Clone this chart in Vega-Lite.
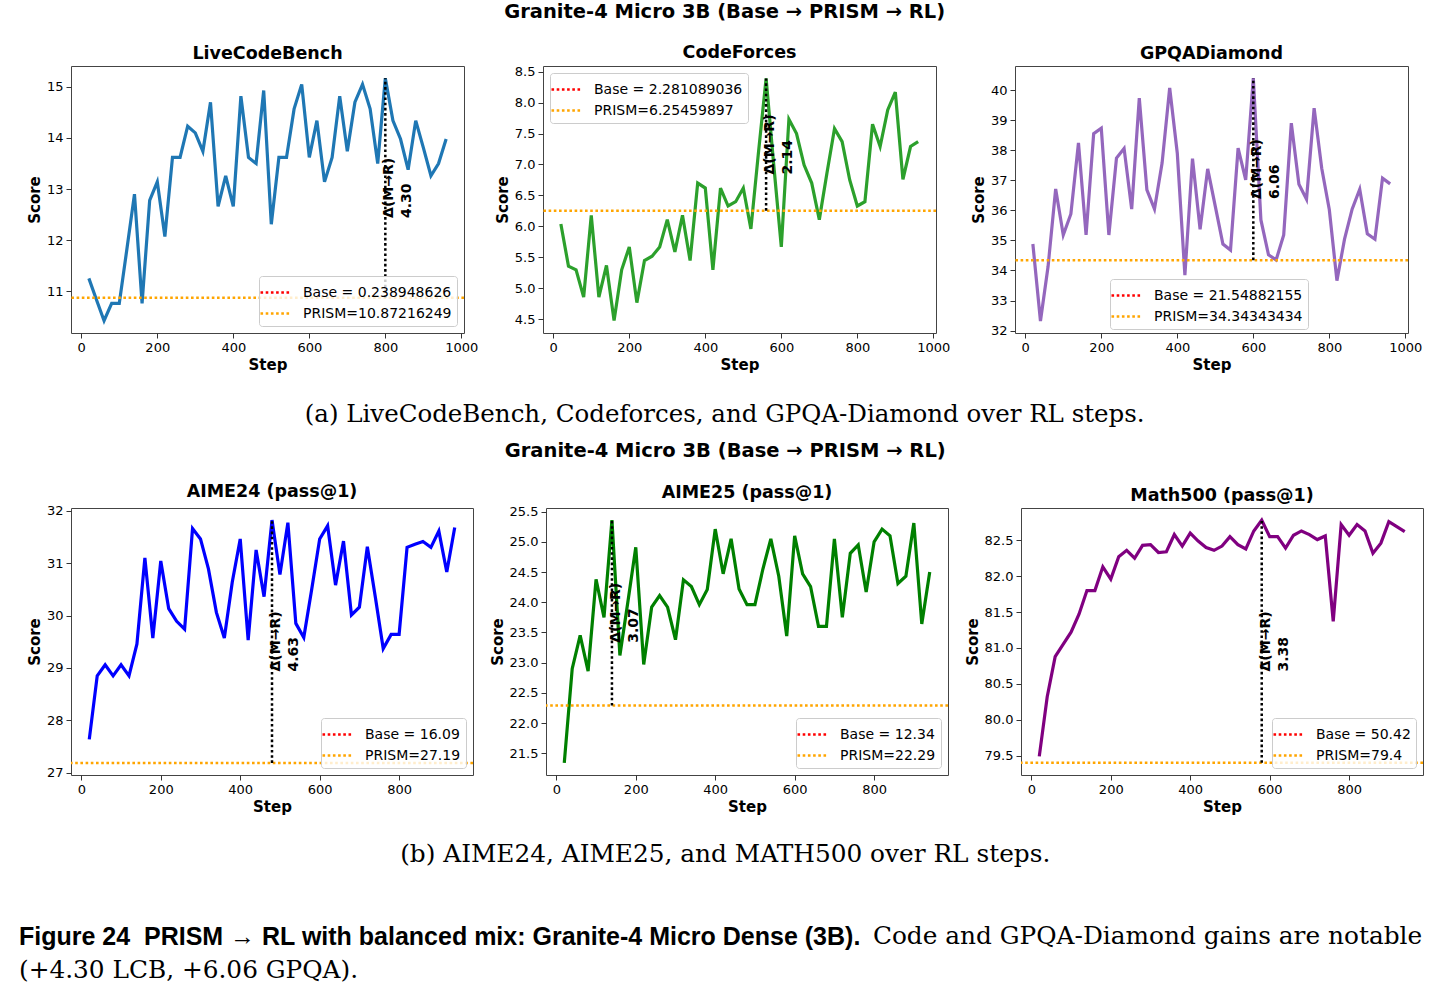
{
  "$schema": "https://vega.github.io/schema/vega-lite/v6.json",
  "padding": {"left": 18, "top": 2, "right": 5, "bottom": 5},
  "background": "white",
  "config": {
    "font": "DejaVu Sans",
    "view": {"stroke": "#444", "strokeWidth": 1},
    "axis": {"grid": false, "domain": false, "tickColor": "#333", "tickSize": 5, "labelFont": "DejaVu Sans", "labelFontSize": 13, "labelColor": "#000", "titleFont": "DejaVu Sans", "titleFontSize": 15, "titleFontWeight": "bold", "titleColor": "#000", "labelPadding": 3, "labelOverlap": false, "labelFlush": false},
    "axisY": {"titlePadding": 4},
    "axisX": {"titlePadding": 3, "format": "d"},
    "legend": {"symbolType": "M-1.5,0H1.5", "symbolSize": 400, "symbolStrokeWidth": 2.5, "symbolDash": [2.6, 2.6], "labelFont": "DejaVu Sans", "labelFontSize": 14, "labelColor": "#000", "labelOffset": 16, "rowPadding": 2, "padding": 5, "strokeColor": "#cccccc", "fillColor": "rgba(255,255,255,0.8)", "cornerRadius": 3, "labelLimit": 400},
    "title": {"font": "DejaVu Sans", "fontWeight": "bold", "fontSize": 17.5, "offset": 4, "color": "#000", "frame": "group", "baseline": "alphabetic"}
  },
  "datasets": {
    "lcb": [
      {"step": 20, "score": 11.25}, {"step": 40, "score": 10.83}, {"step": 60, "score": 10.42}, {"step": 80, "score": 10.76}, {"step": 100, "score": 10.76}, {"step": 120, "score": 11.82}, {"step": 140, "score": 12.9}, {"step": 160, "score": 10.76}, {"step": 180, "score": 12.78}, {"step": 200, "score": 13.14}, {"step": 220, "score": 12.07}, {"step": 240, "score": 13.62}, {"step": 260, "score": 13.62}, {"step": 280, "score": 14.23}, {"step": 300, "score": 14.1}, {"step": 320, "score": 13.74}, {"step": 340, "score": 14.7}, {"step": 360, "score": 12.66}, {"step": 380, "score": 13.26}, {"step": 400, "score": 12.66}, {"step": 420, "score": 14.82}, {"step": 440, "score": 13.62}, {"step": 460, "score": 13.5}, {"step": 480, "score": 14.93}, {"step": 500, "score": 12.31}, {"step": 520, "score": 13.62}, {"step": 540, "score": 13.62}, {"step": 560, "score": 14.57}, {"step": 580, "score": 15.05}, {"step": 600, "score": 13.62}, {"step": 620, "score": 14.34}, {"step": 640, "score": 13.14}, {"step": 660, "score": 13.62}, {"step": 680, "score": 14.82}, {"step": 700, "score": 13.74}, {"step": 720, "score": 14.7}, {"step": 740, "score": 15.05}, {"step": 760, "score": 14.57}, {"step": 780, "score": 13.5}, {"step": 800, "score": 15.17}, {"step": 820, "score": 14.34}, {"step": 840, "score": 13.98}, {"step": 860, "score": 13.38}, {"step": 880, "score": 14.34}, {"step": 900, "score": 13.81}, {"step": 920, "score": 13.26}, {"step": 940, "score": 13.5}, {"step": 960, "score": 13.98}
    ],
    "lcb_ref": [{"label": "Base = 0.238948626", "value": 0.238948626}, {"label": "PRISM=10.87216249", "value": 10.87216249}],
    "lcb_delta": [{"step": 800, "lo": 10.87216249, "hi": 15.17, "label": "Δ(M→R)\n4.30"}],
    "cf": [
      {"step": 20, "score": 6.04}, {"step": 40, "score": 5.36}, {"step": 60, "score": 5.3}, {"step": 80, "score": 4.86}, {"step": 100, "score": 6.18}, {"step": 120, "score": 4.86}, {"step": 140, "score": 5.37}, {"step": 160, "score": 4.48}, {"step": 180, "score": 5.3}, {"step": 200, "score": 5.67}, {"step": 220, "score": 4.77}, {"step": 240, "score": 5.45}, {"step": 260, "score": 5.52}, {"step": 280, "score": 5.67}, {"step": 300, "score": 6.11}, {"step": 320, "score": 5.59}, {"step": 340, "score": 6.18}, {"step": 360, "score": 5.45}, {"step": 380, "score": 6.7}, {"step": 400, "score": 6.62}, {"step": 420, "score": 5.3}, {"step": 440, "score": 6.62}, {"step": 460, "score": 6.33}, {"step": 480, "score": 6.4}, {"step": 500, "score": 6.62}, {"step": 520, "score": 5.96}, {"step": 540, "score": 7.2}, {"step": 560, "score": 8.39}, {"step": 580, "score": 7.0}, {"step": 600, "score": 5.67}, {"step": 620, "score": 7.73}, {"step": 640, "score": 7.5}, {"step": 660, "score": 6.99}, {"step": 680, "score": 6.7}, {"step": 700, "score": 6.11}, {"step": 720, "score": 6.86}, {"step": 740, "score": 7.58}, {"step": 760, "score": 7.37}, {"step": 780, "score": 6.75}, {"step": 800, "score": 6.33}, {"step": 820, "score": 6.4}, {"step": 840, "score": 7.65}, {"step": 860, "score": 7.29}, {"step": 880, "score": 7.88}, {"step": 900, "score": 8.17}, {"step": 920, "score": 6.76}, {"step": 940, "score": 7.29}, {"step": 960, "score": 7.37}
    ],
    "cf_ref": [{"label": "Base = 2.281089036", "value": 2.281089036}, {"label": "PRISM=6.25459897", "value": 6.25459897}],
    "cf_delta": [{"step": 560, "lo": 6.25459897, "hi": 8.39, "label": "Δ(M→R)\n2.14"}],
    "gpqa": [
      {"step": 20, "score": 34.88}, {"step": 40, "score": 32.32}, {"step": 60, "score": 34.13}, {"step": 80, "score": 36.71}, {"step": 100, "score": 35.18}, {"step": 120, "score": 35.88}, {"step": 140, "score": 38.24}, {"step": 160, "score": 35.18}, {"step": 180, "score": 38.55}, {"step": 200, "score": 38.73}, {"step": 220, "score": 35.18}, {"step": 240, "score": 37.74}, {"step": 260, "score": 38.06}, {"step": 280, "score": 36.04}, {"step": 300, "score": 39.73}, {"step": 320, "score": 36.68}, {"step": 340, "score": 36.04}, {"step": 360, "score": 37.57}, {"step": 380, "score": 40.07}, {"step": 400, "score": 37.9}, {"step": 420, "score": 33.84}, {"step": 440, "score": 37.72}, {"step": 460, "score": 35.37}, {"step": 480, "score": 37.38}, {"step": 500, "score": 36.13}, {"step": 520, "score": 34.88}, {"step": 540, "score": 34.68}, {"step": 560, "score": 38.07}, {"step": 580, "score": 37.01}, {"step": 600, "score": 40.4}, {"step": 620, "score": 35.68}, {"step": 640, "score": 34.52}, {"step": 660, "score": 34.35}, {"step": 680, "score": 35.18}, {"step": 700, "score": 38.9}, {"step": 720, "score": 36.87}, {"step": 740, "score": 36.37}, {"step": 760, "score": 39.4}, {"step": 780, "score": 37.4}, {"step": 800, "score": 36.02}, {"step": 820, "score": 33.66}, {"step": 840, "score": 35.04}, {"step": 860, "score": 36.04}, {"step": 880, "score": 36.7}, {"step": 900, "score": 35.22}, {"step": 920, "score": 35.04}, {"step": 940, "score": 37.07}, {"step": 960, "score": 36.88}
    ],
    "gpqa_ref": [{"label": "Base = 21.54882155", "value": 21.54882155}, {"label": "PRISM=34.34343434", "value": 34.34343434}],
    "gpqa_delta": [{"step": 600, "lo": 34.34343434, "hi": 40.4, "label": "Δ(M→R)\n6.06"}],
    "aime24": [
      {"step": 20, "score": 27.64}, {"step": 40, "score": 28.85}, {"step": 60, "score": 29.06}, {"step": 80, "score": 28.85}, {"step": 100, "score": 29.06}, {"step": 120, "score": 28.85}, {"step": 140, "score": 29.46}, {"step": 160, "score": 31.1}, {"step": 180, "score": 29.57}, {"step": 200, "score": 31.04}, {"step": 220, "score": 30.13}, {"step": 240, "score": 29.89}, {"step": 260, "score": 29.74}, {"step": 280, "score": 31.66}, {"step": 300, "score": 31.46}, {"step": 320, "score": 30.89}, {"step": 340, "score": 30.06}, {"step": 360, "score": 29.57}, {"step": 380, "score": 30.64}, {"step": 400, "score": 31.46}, {"step": 420, "score": 29.53}, {"step": 440, "score": 31.25}, {"step": 460, "score": 30.36}, {"step": 480, "score": 31.82}, {"step": 500, "score": 30.78}, {"step": 520, "score": 31.77}, {"step": 540, "score": 29.85}, {"step": 560, "score": 29.58}, {"step": 580, "score": 30.5}, {"step": 600, "score": 31.46}, {"step": 620, "score": 31.71}, {"step": 640, "score": 30.58}, {"step": 660, "score": 31.42}, {"step": 680, "score": 30.01}, {"step": 700, "score": 30.16}, {"step": 720, "score": 31.31}, {"step": 740, "score": 30.36}, {"step": 760, "score": 29.37}, {"step": 780, "score": 29.64}, {"step": 800, "score": 29.64}, {"step": 820, "score": 31.3}, {"step": 840, "score": 31.36}, {"step": 860, "score": 31.41}, {"step": 880, "score": 31.3}, {"step": 900, "score": 31.61}, {"step": 920, "score": 30.83}, {"step": 940, "score": 31.68}
    ],
    "aime24_ref": [{"label": "Base = 16.09", "value": 16.09}, {"label": "PRISM=27.19", "value": 27.19}],
    "aime24_delta": [{"step": 480, "lo": 27.19, "hi": 31.82, "label": "Δ(M→R)\n4.63"}],
    "aime25": [
      {"step": 20, "score": 21.34}, {"step": 40, "score": 22.9}, {"step": 60, "score": 23.45}, {"step": 80, "score": 22.86}, {"step": 100, "score": 24.38}, {"step": 120, "score": 23.75}, {"step": 140, "score": 25.36}, {"step": 160, "score": 23.12}, {"step": 180, "score": 24.0}, {"step": 200, "score": 24.91}, {"step": 220, "score": 22.97}, {"step": 240, "score": 23.92}, {"step": 260, "score": 24.11}, {"step": 280, "score": 23.92}, {"step": 300, "score": 23.38}, {"step": 320, "score": 24.37}, {"step": 340, "score": 24.26}, {"step": 360, "score": 23.96}, {"step": 380, "score": 24.21}, {"step": 400, "score": 25.21}, {"step": 420, "score": 24.47}, {"step": 440, "score": 25.05}, {"step": 460, "score": 24.22}, {"step": 480, "score": 23.96}, {"step": 500, "score": 23.96}, {"step": 520, "score": 24.55}, {"step": 540, "score": 25.05}, {"step": 560, "score": 24.43}, {"step": 580, "score": 23.44}, {"step": 600, "score": 25.1}, {"step": 620, "score": 24.47}, {"step": 640, "score": 24.26}, {"step": 660, "score": 23.6}, {"step": 680, "score": 23.6}, {"step": 700, "score": 25.05}, {"step": 720, "score": 23.75}, {"step": 740, "score": 24.81}, {"step": 760, "score": 24.95}, {"step": 780, "score": 24.17}, {"step": 800, "score": 25.0}, {"step": 820, "score": 25.21}, {"step": 840, "score": 25.1}, {"step": 860, "score": 24.31}, {"step": 880, "score": 24.43}, {"step": 900, "score": 25.31}, {"step": 920, "score": 23.64}, {"step": 940, "score": 24.5}
    ],
    "aime25_ref": [{"label": "Base = 12.34", "value": 12.34}, {"label": "PRISM=22.29", "value": 22.29}],
    "aime25_delta": [{"step": 140, "lo": 22.29, "hi": 25.36, "label": "Δ(M→R)\n3.07"}],
    "math500": [
      {"step": 20, "score": 79.49}, {"step": 40, "score": 80.32}, {"step": 60, "score": 80.88}, {"step": 80, "score": 81.05}, {"step": 100, "score": 81.22}, {"step": 120, "score": 81.47}, {"step": 140, "score": 81.8}, {"step": 160, "score": 81.8}, {"step": 180, "score": 82.13}, {"step": 200, "score": 81.96}, {"step": 220, "score": 82.27}, {"step": 240, "score": 82.36}, {"step": 260, "score": 82.25}, {"step": 280, "score": 82.43}, {"step": 300, "score": 82.44}, {"step": 320, "score": 82.33}, {"step": 340, "score": 82.34}, {"step": 360, "score": 82.58}, {"step": 380, "score": 82.42}, {"step": 400, "score": 82.6}, {"step": 420, "score": 82.49}, {"step": 440, "score": 82.4}, {"step": 460, "score": 82.36}, {"step": 480, "score": 82.42}, {"step": 500, "score": 82.55}, {"step": 520, "score": 82.44}, {"step": 540, "score": 82.38}, {"step": 560, "score": 82.63}, {"step": 580, "score": 82.78}, {"step": 600, "score": 82.55}, {"step": 620, "score": 82.55}, {"step": 640, "score": 82.39}, {"step": 660, "score": 82.57}, {"step": 680, "score": 82.63}, {"step": 700, "score": 82.58}, {"step": 720, "score": 82.51}, {"step": 740, "score": 82.56}, {"step": 760, "score": 81.37}, {"step": 780, "score": 82.72}, {"step": 800, "score": 82.57}, {"step": 820, "score": 82.72}, {"step": 840, "score": 82.63}, {"step": 860, "score": 82.32}, {"step": 880, "score": 82.46}, {"step": 900, "score": 82.76}, {"step": 920, "score": 82.69}, {"step": 940, "score": 82.62}
    ],
    "math500_ref": [{"label": "Base = 50.42", "value": 50.42}, {"label": "PRISM=79.4", "value": 79.4}],
    "math500_delta": [{"step": 580, "lo": 79.4, "hi": 82.78, "label": "Δ(M→R)\n3.38"}]
  },
  "title": {"text": "Code and GPQA-Diamond gains are notable", "orient": "bottom", "anchor": "start", "frame": "bounds", "baseline": "top", "font": "DejaVu Serif", "fontWeight": "normal", "fontSize": 24.8, "dx": 854, "offset": -59, "color": "#000"},
  "vconcat": [
    {
      "title": {"text": "(+4.30 LCB, +6.06 GPQA).", "orient": "bottom", "anchor": "start", "frame": "bounds", "baseline": "top", "font": "DejaVu Serif", "fontWeight": "normal", "fontSize": 24.8, "offset": 8, "color": "#000"},
      "vconcat": [
        {
          "title": {"text": "Figure 24\u00a0\u00a0PRISM → RL with balanced mix: Granite-4 Micro Dense (3B).", "orient": "bottom", "anchor": "start", "frame": "bounds", "baseline": "top", "font": "Liberation Sans", "fontWeight": "bold", "fontSize": 25, "dx": -8, "offset": 59, "color": "#000"},
          "spacing": 15,
          "vconcat": [
            {
              "title": {"text": "(a) LiveCodeBench, Codeforces, and GPQA-Diamond over RL steps.", "orient": "bottom", "anchor": "middle", "frame": "bounds", "baseline": "top", "font": "DejaVu Serif", "fontWeight": "normal", "fontSize": 24.5, "offset": 30, "color": "#000"},
              "vconcat": [
                {
                  "title": {"text": "Granite-4 Micro 3B (Base → PRISM → RL)", "fontSize": 19.5, "offset": 2, "anchor": "middle", "frame": "bounds", "baseline": "bottom"},
                  "bounds": "flush",
                  "spacing": 79,
                  "resolve": {"scale": {"x": "independent", "y": "independent", "color": "independent"}, "legend": {"color": "independent"}, "axis": {"x": "independent", "y": "independent"}},
                  "hconcat": [
                    {
                      "title": "LiveCodeBench", "width": 393, "height": 267,
                      "layer": [
                        {"data": {"name": "lcb"}, "mark": {"type": "line", "color": "#1f77b4", "strokeWidth": 3.2},
                         "encoding": {"x": {"field": "step", "type": "quantitative", "title": "Step", "scale": {"domain": [-27, 1007], "nice": false, "zero": false}, "axis": {"values": [0, 200, 400, 600, 800, 1000], "tickCount": 12}},
                                      "y": {"field": "score", "type": "quantitative", "title": "Score", "scale": {"domain": [10.18, 15.41], "nice": false, "zero": false}, "axis": {"values": [11, 12, 13, 14, 15], "format": "d", "tickCount": 12}}}},
                        {"data": {"name": "lcb_ref"}, "mark": {"type": "rule", "strokeDash": [2.6, 2.6], "strokeWidth": 2.5, "clip": true},
                         "encoding": {"y": {"field": "value", "type": "quantitative", "title": "Score"},
                                      "color": {"field": "label", "type": "nominal", "scale": {"domain": ["Base = 0.238948626", "PRISM=10.87216249"], "range": ["#ff0000", "#ffa500"]}, "legend": {"title": null, "orient": "bottom-right", "offset": 7}}}},
                        {"data": {"name": "lcb_delta"}, "mark": {"type": "rule", "strokeDash": [2.6, 2.6], "strokeWidth": 2.5, "color": "#000"},
                         "encoding": {"x": {"field": "step", "type": "quantitative", "title": "Step"}, "y": {"field": "lo", "type": "quantitative", "title": "Score"}, "y2": {"field": "hi"}}},
                        {"data": {"name": "lcb_delta"}, "transform": [{"calculate": "(datum.lo + datum.hi) / 2", "as": "mid"}],
                         "mark": {"type": "text", "angle": 270, "align": "left", "baseline": "top", "dx": -30, "dy": -3, "fontWeight": "bold", "fontSize": 14, "lineBreak": "\n", "lineHeight": 18, "color": "#000"},
                         "encoding": {"x": {"field": "step", "type": "quantitative", "title": "Step"}, "y": {"field": "mid", "type": "quantitative", "title": "Score"}, "text": {"field": "label", "type": "nominal"}}}
                      ]
                    },
                    {
                      "title": "CodeForces", "width": 393, "height": 267,
                      "layer": [
                        {"data": {"name": "cf"}, "mark": {"type": "line", "color": "#2ca02c", "strokeWidth": 3.2},
                         "encoding": {"x": {"field": "step", "type": "quantitative", "title": "Step", "scale": {"domain": [-27, 1007], "nice": false, "zero": false}, "axis": {"values": [0, 200, 400, 600, 800, 1000], "tickCount": 12}},
                                      "y": {"field": "score", "type": "quantitative", "title": "Score", "scale": {"domain": [4.28, 8.59], "nice": false, "zero": false}, "axis": {"values": [4.5, 5, 5.5, 6, 6.5, 7, 7.5, 8, 8.5], "format": ".1f", "tickCount": 12}}}},
                        {"data": {"name": "cf_ref"}, "mark": {"type": "rule", "strokeDash": [2.6, 2.6], "strokeWidth": 2.5, "clip": true},
                         "encoding": {"y": {"field": "value", "type": "quantitative", "title": "Score"},
                                      "color": {"field": "label", "type": "nominal", "scale": {"domain": ["Base = 2.281089036", "PRISM=6.25459897"], "range": ["#ff0000", "#ffa500"]}, "legend": {"title": null, "orient": "top-left", "offset": 7}}}},
                        {"data": {"name": "cf_delta"}, "mark": {"type": "rule", "strokeDash": [2.6, 2.6], "strokeWidth": 2.5, "color": "#000"},
                         "encoding": {"x": {"field": "step", "type": "quantitative", "title": "Step"}, "y": {"field": "lo", "type": "quantitative", "title": "Score"}, "y2": {"field": "hi"}}},
                        {"data": {"name": "cf_delta"}, "transform": [{"calculate": "(datum.lo + datum.hi) / 2", "as": "mid"}],
                         "mark": {"type": "text", "angle": 270, "align": "left", "baseline": "top", "dx": -30, "dy": -3, "fontWeight": "bold", "fontSize": 14, "lineBreak": "\n", "lineHeight": 18, "color": "#000"},
                         "encoding": {"x": {"field": "step", "type": "quantitative", "title": "Step"}, "y": {"field": "mid", "type": "quantitative", "title": "Score"}, "text": {"field": "label", "type": "nominal"}}}
                      ]
                    },
                    {
                      "title": "GPQADiamond", "width": 393, "height": 267,
                      "layer": [
                        {"data": {"name": "gpqa"}, "mark": {"type": "line", "color": "#9467bd", "strokeWidth": 3.2},
                         "encoding": {"x": {"field": "step", "type": "quantitative", "title": "Step", "scale": {"domain": [-27, 1007], "nice": false, "zero": false}, "axis": {"values": [0, 200, 400, 600, 800, 1000], "tickCount": 12}},
                                      "y": {"field": "score", "type": "quantitative", "title": "Score", "scale": {"domain": [31.92, 40.8], "nice": false, "zero": false}, "axis": {"values": [32, 33, 34, 35, 36, 37, 38, 39, 40], "format": "d", "tickCount": 12}}}},
                        {"data": {"name": "gpqa_ref"}, "mark": {"type": "rule", "strokeDash": [2.6, 2.6], "strokeWidth": 2.5, "clip": true},
                         "encoding": {"y": {"field": "value", "type": "quantitative", "title": "Score"},
                                      "color": {"field": "label", "type": "nominal", "scale": {"domain": ["Base = 21.54882155", "PRISM=34.34343434"], "range": ["#ff0000", "#ffa500"]}, "legend": {"title": null, "orient": "none", "legendX": 95, "legendY": 213}}}},
                        {"data": {"name": "gpqa_delta"}, "mark": {"type": "rule", "strokeDash": [2.6, 2.6], "strokeWidth": 2.5, "color": "#000"},
                         "encoding": {"x": {"field": "step", "type": "quantitative", "title": "Step"}, "y": {"field": "lo", "type": "quantitative", "title": "Score"}, "y2": {"field": "hi"}}},
                        {"data": {"name": "gpqa_delta"}, "transform": [{"calculate": "(datum.lo + datum.hi) / 2", "as": "mid"}],
                         "mark": {"type": "text", "angle": 270, "align": "left", "baseline": "top", "dx": -30, "dy": -3, "fontWeight": "bold", "fontSize": 14, "lineBreak": "\n", "lineHeight": 18, "color": "#000"},
                         "encoding": {"x": {"field": "step", "type": "quantitative", "title": "Step"}, "y": {"field": "mid", "type": "quantitative", "title": "Score"}, "text": {"field": "label", "type": "nominal"}}}
                      ]
                    }
                  ]
                }
              ]
            },
            {
              "title": {"text": "(b) AIME24, AIME25, and MATH500 over RL steps.", "orient": "bottom", "anchor": "middle", "frame": "bounds", "baseline": "top", "font": "DejaVu Serif", "fontWeight": "normal", "fontSize": 24.8, "offset": 27, "color": "#000"},
              "vconcat": [
                {
                  "title": {"text": "Granite-4 Micro 3B (Base → PRISM → RL)", "fontSize": 19.5, "offset": 2, "anchor": "middle", "frame": "bounds", "baseline": "bottom"},
                  "bounds": "flush",
                  "spacing": 73,
                  "resolve": {"scale": {"x": "independent", "y": "independent", "color": "independent"}, "legend": {"color": "independent"}, "axis": {"x": "independent", "y": "independent"}},
                  "hconcat": [
                    {
                      "title": "AIME24 (pass@1)", "width": 402, "height": 267,
                      "layer": [
                        {"data": {"name": "aime24"}, "mark": {"type": "line", "color": "#0000ff", "strokeWidth": 3.2},
                         "encoding": {"x": {"field": "step", "type": "quantitative", "title": "Step", "scale": {"domain": [-26, 986], "nice": false, "zero": false}, "axis": {"values": [0, 200, 400, 600, 800], "tickCount": 12}},
                                      "y": {"field": "score", "type": "quantitative", "title": "Score", "scale": {"domain": [26.96, 32.05], "nice": false, "zero": false}, "axis": {"values": [27, 28, 29, 30, 31, 32], "format": "d", "tickCount": 12}}}},
                        {"data": {"name": "aime24_ref"}, "mark": {"type": "rule", "strokeDash": [2.6, 2.6], "strokeWidth": 2.5, "clip": true},
                         "encoding": {"y": {"field": "value", "type": "quantitative", "title": "Score"},
                                      "color": {"field": "label", "type": "nominal", "scale": {"domain": ["Base = 16.09", "PRISM=27.19"], "range": ["#ff0000", "#ffa500"]}, "legend": {"title": null, "orient": "bottom-right", "offset": 7}}}},
                        {"data": {"name": "aime24_delta"}, "mark": {"type": "rule", "strokeDash": [2.6, 2.6], "strokeWidth": 2.5, "color": "#000"},
                         "encoding": {"x": {"field": "step", "type": "quantitative", "title": "Step"}, "y": {"field": "lo", "type": "quantitative", "title": "Score"}, "y2": {"field": "hi"}}},
                        {"data": {"name": "aime24_delta"}, "transform": [{"calculate": "(datum.lo + datum.hi) / 2", "as": "mid"}],
                         "mark": {"type": "text", "angle": 270, "align": "left", "baseline": "top", "dx": -30, "dy": -3, "fontWeight": "bold", "fontSize": 14, "lineBreak": "\n", "lineHeight": 18, "color": "#000"},
                         "encoding": {"x": {"field": "step", "type": "quantitative", "title": "Step"}, "y": {"field": "mid", "type": "quantitative", "title": "Score"}, "text": {"field": "label", "type": "nominal"}}}
                      ]
                    },
                    {
                      "title": "AIME25 (pass@1)", "width": 402, "height": 267,
                      "layer": [
                        {"data": {"name": "aime25"}, "mark": {"type": "line", "color": "#008000", "strokeWidth": 3.2},
                         "encoding": {"x": {"field": "step", "type": "quantitative", "title": "Step", "scale": {"domain": [-26, 986], "nice": false, "zero": false}, "axis": {"values": [0, 200, 400, 600, 800], "tickCount": 12}},
                                      "y": {"field": "score", "type": "quantitative", "title": "Score", "scale": {"domain": [21.14, 25.56], "nice": false, "zero": false}, "axis": {"values": [21.5, 22, 22.5, 23, 23.5, 24, 24.5, 25, 25.5], "format": ".1f", "tickCount": 12}}}},
                        {"data": {"name": "aime25_ref"}, "mark": {"type": "rule", "strokeDash": [2.6, 2.6], "strokeWidth": 2.5, "clip": true},
                         "encoding": {"y": {"field": "value", "type": "quantitative", "title": "Score"},
                                      "color": {"field": "label", "type": "nominal", "scale": {"domain": ["Base = 12.34", "PRISM=22.29"], "range": ["#ff0000", "#ffa500"]}, "legend": {"title": null, "orient": "bottom-right", "offset": 7}}}},
                        {"data": {"name": "aime25_delta"}, "mark": {"type": "rule", "strokeDash": [2.6, 2.6], "strokeWidth": 2.5, "color": "#000"},
                         "encoding": {"x": {"field": "step", "type": "quantitative", "title": "Step"}, "y": {"field": "lo", "type": "quantitative", "title": "Score"}, "y2": {"field": "hi"}}},
                        {"data": {"name": "aime25_delta"}, "transform": [{"calculate": "(datum.lo + datum.hi) / 2", "as": "mid"}],
                         "mark": {"type": "text", "angle": 270, "align": "left", "baseline": "top", "dx": -30, "dy": -3, "fontWeight": "bold", "fontSize": 14, "lineBreak": "\n", "lineHeight": 18, "color": "#000"},
                         "encoding": {"x": {"field": "step", "type": "quantitative", "title": "Step"}, "y": {"field": "mid", "type": "quantitative", "title": "Score"}, "text": {"field": "label", "type": "nominal"}}}
                      ]
                    },
                    {
                      "title": "Math500 (pass@1)", "width": 402, "height": 267,
                      "layer": [
                        {"data": {"name": "math500"}, "mark": {"type": "line", "color": "#800080", "strokeWidth": 3.2},
                         "encoding": {"x": {"field": "step", "type": "quantitative", "title": "Step", "scale": {"domain": [-26, 986], "nice": false, "zero": false}, "axis": {"values": [0, 200, 400, 600, 800], "tickCount": 12}},
                                      "y": {"field": "score", "type": "quantitative", "title": "Score", "scale": {"domain": [79.23, 82.95], "nice": false, "zero": false}, "axis": {"values": [79.5, 80, 80.5, 81, 81.5, 82, 82.5], "format": ".1f", "tickCount": 12}}}},
                        {"data": {"name": "math500_ref"}, "mark": {"type": "rule", "strokeDash": [2.6, 2.6], "strokeWidth": 2.5, "clip": true},
                         "encoding": {"y": {"field": "value", "type": "quantitative", "title": "Score"},
                                      "color": {"field": "label", "type": "nominal", "scale": {"domain": ["Base = 50.42", "PRISM=79.4"], "range": ["#ff0000", "#ffa500"]}, "legend": {"title": null, "orient": "bottom-right", "offset": 7}}}},
                        {"data": {"name": "math500_delta"}, "mark": {"type": "rule", "strokeDash": [2.6, 2.6], "strokeWidth": 2.5, "color": "#000"},
                         "encoding": {"x": {"field": "step", "type": "quantitative", "title": "Step"}, "y": {"field": "lo", "type": "quantitative", "title": "Score"}, "y2": {"field": "hi"}}},
                        {"data": {"name": "math500_delta"}, "transform": [{"calculate": "(datum.lo + datum.hi) / 2", "as": "mid"}],
                         "mark": {"type": "text", "angle": 270, "align": "left", "baseline": "top", "dx": -30, "dy": -3, "fontWeight": "bold", "fontSize": 14, "lineBreak": "\n", "lineHeight": 18, "color": "#000"},
                         "encoding": {"x": {"field": "step", "type": "quantitative", "title": "Step"}, "y": {"field": "mid", "type": "quantitative", "title": "Score"}, "text": {"field": "label", "type": "nominal"}}}
                      ]
                    }
                  ]
                }
              ]
            }
          ]
        }
      ]
    }
  ]
}
